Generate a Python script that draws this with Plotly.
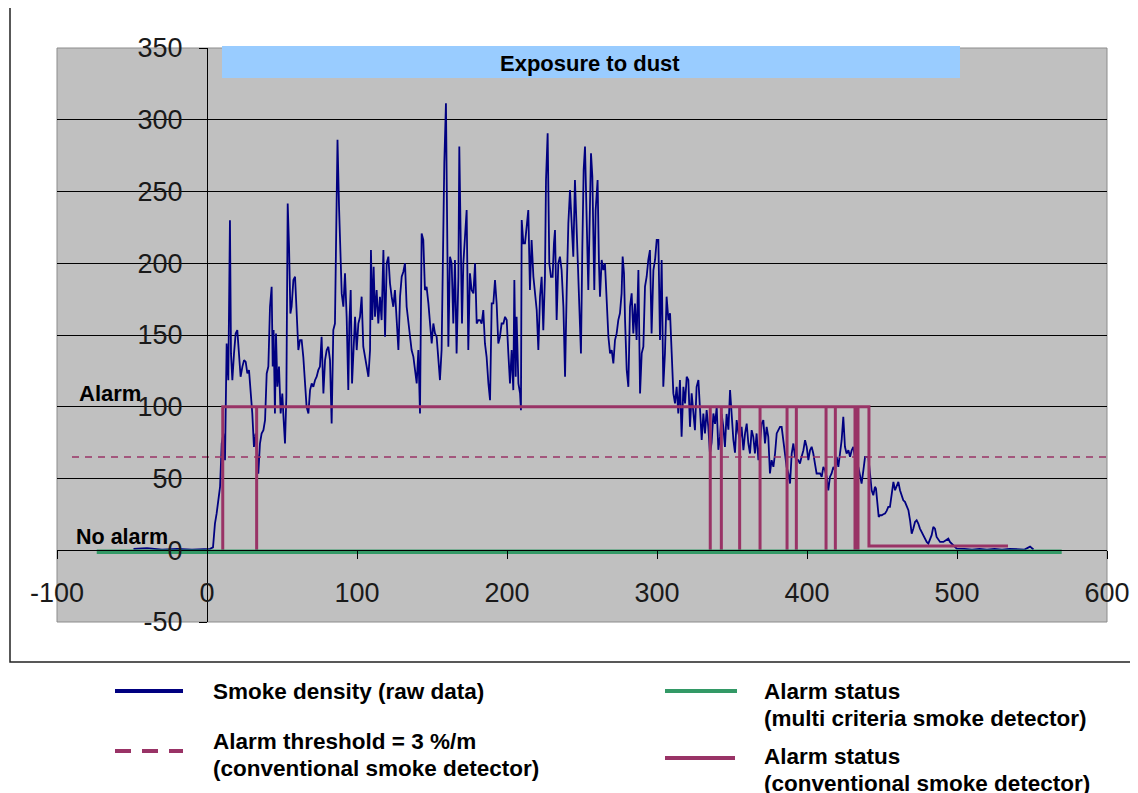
import plotly.graph_objects as go

# ---------------- data ----------------
smoke_time = [
    -49, -40, -30, -20, -10, 0, 2, 4,
    5.3, 6.4, 7.6, 8.7, 9.8, 10.9, 12.0, 12.7, 13.1, 14.2,
    15.3, 16.0, 16.9, 18.0, 19.1, 20.2, 21.3, 22.4, 23.6, 24.7,
    25.8, 26.9, 28.0, 29.1, 30.2, 31.3, 32.4, 33.6, 34.2, 35.3,
    36.4, 37.6, 38.7, 39.8, 40.9, 42.0, 43.1, 43.8, 44.4, 45.3,
    46.0, 46.9, 48.0, 49.1, 50.2, 51.1, 52.0, 52.9, 53.8, 54.7,
    55.6, 56.4, 57.6, 58.7, 59.8, 60.9, 62.0, 63.1, 64.2, 65.3,
    66.4, 67.6, 68.7, 69.8, 70.9, 72.0, 73.1, 74.2, 75.3, 76.4,
    77.6, 78.7, 79.8, 80.9, 82.0, 83.1, 84.2, 85.3, 86.0, 87.0,
    88.0, 88.7, 89.8,
    90.9, 92.0, 93.1, 94.2, 94.9, 95.8, 96.7, 97.6, 98.7, 99.8,
    100.9, 102.0, 103.1, 104.2, 105.3, 106.4, 107.6, 108.7, 109.3, 110.2,
    111.1, 112.0, 113.1, 114.2, 115.3, 116.4, 117.6, 118.7, 119.8, 120.9,
    122.0, 123.1, 124.2, 125.3, 126.4, 127.6, 128.7, 129.8, 130.9, 132.0,
    133.1, 134.2, 135.3, 136.4, 137.6, 138.7, 139.8, 140.9, 142.0, 143.1,
    144.2, 145.3, 146.4, 147.6, 148.7, 149.8, 150.9, 152.0, 153.1, 154.2,
    155.3, 156.4, 157.1, 158.2, 159.3, 160.2, 160.9, 162.0, 163.1, 164.2,
    165.3, 166.4, 167.6, 168.2, 169.1, 170.0, 170.9, 172.0, 173.1, 174.2,
    175.3, 176.4, 177.6, 178.7, 179.8, 180.9, 182.0,
    183.1, 184.2, 185.3, 186.4, 187.6, 188.7, 189.8, 190.9, 192.0, 193.1,
    194.2, 195.3, 196.4, 197.6, 198.7, 199.8, 200.9, 202.0, 203.1, 204.2,
    204.9, 205.8, 206.4, 207.6, 208.7, 209.3, 209.8, 210.9, 212.0, 213.1,
    214.2, 215.3, 216.4, 217.6, 218.7, 219.8, 220.9, 222.0, 223.1, 224.2,
    225.3, 226.0, 227.1, 228.2, 229.3, 230.4, 231.3, 232.0, 233.1, 234.2,
    235.3, 236.4, 237.6, 238.7, 239.8, 240.9, 242.0, 243.1, 244.2, 245.3,
    246.4, 247.6, 248.7, 249.3, 250.2, 251.1, 252.0, 253.1, 254.2, 255.3,
    256.0, 256.9, 257.6, 258.2, 259.1, 260.4, 261.3, 262.0, 263.1, 264.2,
    265.3, 266.4, 267.6, 268.7, 269.8, 270.9,
    272.0, 273.1, 274.2, 275.3, 276.4, 277.1, 278.0, 278.7, 279.8, 280.9,
    282.0, 283.1, 284.2, 285.3, 286.4, 287.6, 288.7, 289.8, 290.9, 292.0,
    293.1, 294.2, 295.3, 296.4, 297.6, 298.7, 299.8, 300.9, 302.0, 303.1,
    304.2, 305.3, 306.4, 307.6, 308.7, 309.8, 310.9, 312.0, 313.1, 314.2,
    315.3, 316.4, 317.6, 318.7, 319.8, 320.9, 322.0, 323.1, 324.2, 325.3,
    326.4, 327.6, 328.7, 329.8, 330.9, 332.0, 333.1, 334.2, 335.3, 336.4,
    337.6, 338.7, 339.8, 340.9, 342.0, 343.1, 344.2, 345.3, 346.4, 347.6,
    348.7, 349.8, 350.9, 352.0, 353.1, 354.2, 355.3,
    356.4, 357.6, 358.7, 359.8, 360.9, 362.0, 363.1, 364.2, 365.3, 366.4,
    367.6, 368.7, 369.8, 370.9, 372.0, 373.1, 374.2, 375.3, 376.4, 377.6,
    378.7, 379.8, 380.9, 382.0, 383.1, 384.2, 385.3, 386.4, 387.6, 388.7,
    389.8, 390.9, 392.0, 393.1, 394.2, 395.3, 396.4, 397.6, 398.7, 399.8,
    400.9, 402.0, 403.1, 404.2, 405.3, 406.4, 407.6, 408.7, 409.8, 410.9,
    412.0, 413.1, 414.2, 415.3, 416.4, 417.6, 418.7, 419.8, 420.9, 422.0,
    423.1, 424.2, 425.3, 426.4, 427.6, 428.7, 429.8, 430.9, 432.0, 433.1,
    434.2, 435.3, 436.4, 437.6, 438.7, 439.8,
    440.9, 442.0, 443.1, 444.2, 445.3, 446.0, 446.9, 447.8, 448.7, 449.8,
    450.9, 452.0, 453.1, 454.2, 455.3, 456.4, 457.6, 458.7, 459.8, 460.9,
    462.0, 463.1, 464.2, 465.3, 466.4, 467.6, 468.7, 469.8, 470.9, 472.0,
    473.1, 474.2, 475.3, 476.4, 477.6, 478.7, 479.8, 480.9, 482.0, 483.1,
    484.2, 485.3, 486.4, 487.6, 488.7, 490.9, 493.1, 494.2, 495.3, 497.6,
    499.8, 505, 510, 515, 520, 525, 530, 535, 540, 545,
    548.7, 551,
]

smoke_density = [
    1, 1.5, 0.5, 1, 0.5, 1, 1, 2,
    18.6, 25.5, 37.2, 44.1, 74.4, 81.3, 62.7, 118.5, 144, 118.5,
    230, 137, 118.5, 137, 151, 153.4, 137, 120.9, 128, 132.5,
    131.3, 123.2, 125.5, 111.6, 95.3, 72, 81.3, 65, 53.4, 74.4,
    81.3, 83.7, 90.6, 123.2, 128, 169.7, 183.6, 128, 153.4, 95.3,
    151, 113.9, 128, 95.3, 109.2, 90.6, 74.4, 107, 241.7, 211.5,
    165, 169.7, 188.3, 190.6, 167.3, 139.5, 146.4, 146.4, 134.8, 113.9,
    100, 95.3, 111.6, 116.2, 113.9, 118.5, 120.9, 125.5, 128, 148.7,
    109.2, 132.5, 139.5, 141.8, 132.5, 88.3, 153.4, 158, 220.8, 286,
    240, 211.5, 179,
    169.7, 193, 162.7, 111.6, 158, 181.3, 116.2, 134.8, 162.7, 139.5,
    158, 162.7, 176.7, 141.8, 134.8, 130.2, 120.9, 139.5, 209.2, 160.4,
    197.6, 162.7, 181.3, 158, 176.7, 160.4, 209.2, 148.8, 200, 204.6,
    186, 176.7, 169.7, 181.3, 158, 139.5, 176.7, 190.6, 194.1, 200,
    169.7, 158, 148.8, 139.5, 134.8, 123.2, 116.2, 139.5, 95.3, 220.8,
    216.2, 181.3, 183.6, 172, 158, 144.1, 158, 151.1, 148.8, 134.8,
    118.6, 139.5, 206.9, 269.7, 311.5, 186, 141.8, 204.6, 200, 158,
    202.3, 137.2, 190.6, 281.3, 204.6, 158, 200, 218.5, 237.1, 139.5,
    193, 181.3, 179, 200, 158, 160.4, 160.4,
    158, 167.4, 144.1, 134.8, 116.2, 104.6, 172, 172, 188.3, 172,
    144.1, 148.8, 158, 158, 162.7, 160.4, 137.2, 116.2, 139.5, 111.6,
    188.3, 120.9, 162.7, 116.2, 109.3, 97.6, 230.1, 213.9, 213.9, 225.5,
    237.1, 181.3, 216.2, 190.6, 176.7, 167.4, 139.5, 176.7, 190.6, 153.4,
    190.6, 258, 290.6, 200, 190.6, 190.6, 213.9, 223.2, 160.4, 200,
    204.6, 195.3, 169.7, 120.9, 181.3, 227.8, 251.1, 223.2, 204.6, 258,
    227.8, 190.6, 158, 137.2, 209.2, 265, 281.3, 227.8, 181.3, 239.4,
    276.6, 260.4, 220.8, 181.3, 237.1, 258, 200, 176.7, 202.3, 195.3,
    200, 169.7, 148.8, 137.2, 139.5, 130.2,
    146.5, 151.1, 160.4, 165.1, 179, 204.6, 193, 160.4, 125.6, 113.9,
    169.7, 179, 151.1, 172, 146.5, 195.3, 109.3, 137.2, 141.8, 183.7,
    190.6, 202.3, 209.2, 151.1, 195.3, 202.3, 216.2, 216.2, 146.5, 202.3,
    113.9, 137.2, 176.7, 160.4, 165.1, 137.2, 109.3, 102.3, 113.9, 95.3,
    118.6, 79.1, 113.9, 102.3, 120.9, 118.6, 86, 109.3, 95.3, 83.7,
    113.9, 118.6, 97.7, 76.8, 95.3, 81.4, 97.7, 86, 67.4, 75,
    95.3, 88, 100, 70, 79, 95, 86, 72, 95, 84,
    111.6, 92, 77, 68, 90.7, 82, 77,
    86, 69.7, 81.4, 88.3, 74.4, 67.4, 83.7, 79, 67.4, 81.4,
    62.8, 76.7, 88.3, 90.7, 74.4, 86, 79, 53.5, 62.8, 58.1,
    67.4, 81.4, 83.7, 86, 86, 76.7, 65.1, 58.1, 53.5, 46.5,
    67.4, 74.4, 65.1, 62.8, 62.8, 60.4, 65.1, 69.7, 76.7, 72.1,
    62.8, 69.7, 72.1, 67.4, 60.4, 53.5, 53.5, 53.5, 51.1, 58.1,
    55.8, 51.1, 41.8, 51.1, 53.5, 58.1, 55.8, 65.1, 58.1, 67.4,
    76.7, 93, 72.1, 67.4, 69.7, 65.1, 69.7, 72.1, 62.8, 55.8,
    58.1, 51.1, 46.5, 55.8, 65.1, 65.1,
    65, 53.5, 41.8, 38.3, 44.2, 43, 30.2, 23.2, 24.4, 24.4,
    25.1, 25.6, 27.4, 30.2, 30.2, 38.3, 47.6, 41.8, 45.3, 47.6,
    41.8, 38.3, 34.8, 33.7, 30.2, 27.9, 20.9, 11.6, 15.1, 19.7,
    20.9, 18.6, 15.1, 12.8, 9.3, 7, 5.8, 4.6, 7, 10.5,
    16.3, 15.1, 9.3, 7, 5.8, 5.8, 7, 8.1, 5.8, 3.5,
    1.2, 1, 0.5, 1, 0.5, 1, 0.5, 1, 1, 0.5,
    2.5, 0.5,
]
assert len(smoke_time) == len(smoke_density)

threshold_time = [-90, 600]
threshold_level = [65, 65]

conv_alarm_time = [
    10.5, 10.5,
    33.1, 33.1, 33.1,
    335.5, 335.5, 335.5,
    342.9, 342.9, 342.9,
    355.1, 355.1, 355.1,
    368.7, 368.7, 368.7,
    386.7, 386.7, 386.7,
    392.9, 392.9, 392.9,
    412.7, 412.7, 412.7,
    418.9, 418.9, 418.9,
    432.0, 432.0, 432.0,
    434.0, 434.0, 434.0,
    441.3, 441.3, 534.0,
]
conv_alarm_state = [
    0, 100,
    100, 0, 100,
    100, 0, 100,
    100, 0, 100,
    100, 0, 100,
    100, 0, 100,
    100, 0, 100,
    100, 0, 100,
    100, 0, 100,
    100, 0, 100,
    100, 0, 100,
    100, 0, 100,
    100, 3, 3,
]

multi_alarm_time = [-73.5, 569.8]
multi_alarm_state = [-1, -1]

x_ticks = [-100, 0, 100, 200, 300, 400, 500, 600]
y_ticks = [-50, 0, 50, 100, 150, 200, 250, 300, 350]
y_grid = [50, 100, 150, 200, 250, 300]

# ---------------- colours / fonts ----------------
NAVY = "#000080"
PLUM = "#993366"
GREEN = "#339966"
FONT = "Liberation Sans, Arial, Helvetica, sans-serif"

# the page body adds an 8 px offset; design in screen pixels and compensate
OFF = 8
W, H = 1138 - OFF, 793 - OFF
ML = 57 - OFF
MT = 48 - OFF
MR = W - (1107 - OFF)
MB = H - (622 - OFF)


def px(xp):
    return (xp - OFF - ML) / (W - ML - MR)


def py(yp):
    return (H - MB - (yp - OFF)) / (H - MT - MB)


fig = go.Figure()

fig.add_trace(go.Scatter(x=smoke_time, y=smoke_density, mode="lines",
                         line=dict(color=NAVY, width=1.8), showlegend=False))
fig.add_trace(go.Scatter(x=threshold_time, y=threshold_level, mode="lines",
                         line=dict(color=PLUM, width=1.5, dash="7px,6px"),
                         showlegend=False))
fig.add_trace(go.Scatter(x=conv_alarm_time, y=conv_alarm_state, mode="lines",
                         line=dict(color=PLUM, width=3), showlegend=False))
fig.add_trace(go.Scatter(x=multi_alarm_time, y=multi_alarm_state, mode="lines",
                         line=dict(color=GREEN, width=4.5), showlegend=False))

shapes = []
# outer chart frame
shapes.append(dict(type="rect", xref="paper", yref="paper",
                   x0=px(10), x1=px(1145), y0=py(662), y1=py(7),
                   line=dict(color="#222222", width=1.5), layer="below"))
# plot-area border
shapes.append(dict(type="rect", xref="paper", yref="paper",
                   x0=0, x1=1, y0=0, y1=1,
                   line=dict(color="#8c8c8c", width=1), layer="below"))
# title box
shapes.append(dict(type="rect", xref="paper", yref="paper",
                   x0=px(222), x1=px(960), y0=py(78), y1=py(46),
                   fillcolor="#99CCFF", line=dict(width=0), layer="above"))

# legend samples
shapes.append(dict(type="line", xref="paper", yref="paper",
                   x0=px(115), x1=px(183), y0=py(691), y1=py(691),
                   line=dict(color=NAVY, width=4)))
shapes.append(dict(type="line", xref="paper", yref="paper",
                   x0=px(115), x1=px(183), y0=py(751), y1=py(751),
                   line=dict(color=PLUM, width=4, dash="16px,11px")))
shapes.append(dict(type="line", xref="paper", yref="paper",
                   x0=px(665), x1=px(737), y0=py(691), y1=py(691),
                   line=dict(color=GREEN, width=4)))
shapes.append(dict(type="line", xref="paper", yref="paper",
                   x0=px(665), x1=px(735), y0=py(758), y1=py(758),
                   line=dict(color=PLUM, width=4)))

annotations = []


def label(text, xp, yp, size=22, anchor="left"):
    annotations.append(dict(text="<b>" + text + "</b>", xref="paper", yref="paper",
                            x=px(xp), y=py(yp), xanchor=anchor, yanchor="middle",
                            showarrow=False,
                            font=dict(family=FONT, size=size, color="black")))


label("Exposure to dust", 590, 63, anchor="center")
label("Alarm", 77, 393)
label("No alarm", 74, 537, size=21.5)
label("Smoke density (raw data)", 211, 691, size=22.5)
label("Alarm threshold = 3 %/m", 211, 741, size=22.5)
label("(conventional smoke detector)", 211, 768, size=22.5)
label("Alarm status", 762, 691, size=22.5)
label("(multi criteria smoke detector)", 762, 718, size=22.5)
label("Alarm status", 762, 756, size=22.5)
label("(conventional smoke detector)", 762, 783, size=22.5)

tickfont = dict(family=FONT, size=27, color="#1a1a1a")

fig.update_layout(
    width=W, height=H,
    margin=dict(l=ML, r=MR, t=MT, b=MB, pad=0),
    paper_bgcolor="white",
    plot_bgcolor="#C0C0C0",
    showlegend=False,
    shapes=shapes,
    annotations=annotations,
    xaxis=dict(range=[-100, 600], tickvals=x_ticks, ticktext=[str(v) for v in x_ticks],
               anchor="free", position=50 / 400,
               showline=True, linecolor="black", linewidth=1,
               ticks="outside", ticklen=8, tickcolor="black", tickwidth=1,
               showgrid=False, zeroline=False, tickfont=tickfont,
               ticklabelstandoff=10, automargin=False, fixedrange=True),
    yaxis=dict(range=[-50, 350], tickvals=y_ticks, ticktext=[str(v) for v in y_ticks],
               anchor="free", position=100 / 700,
               showline=True, linecolor="black", linewidth=1,
               ticks="outside", ticklen=8, tickcolor="black", tickwidth=1,
               showgrid=False, zeroline=False, tickfont=tickfont,
               ticklabelstandoff=11, automargin=False, fixedrange=True,
               minor=dict(tickvals=y_grid, showgrid=True, gridcolor="black",
                          gridwidth=1, ticks="")),
)

fig.write_html("out.html")
